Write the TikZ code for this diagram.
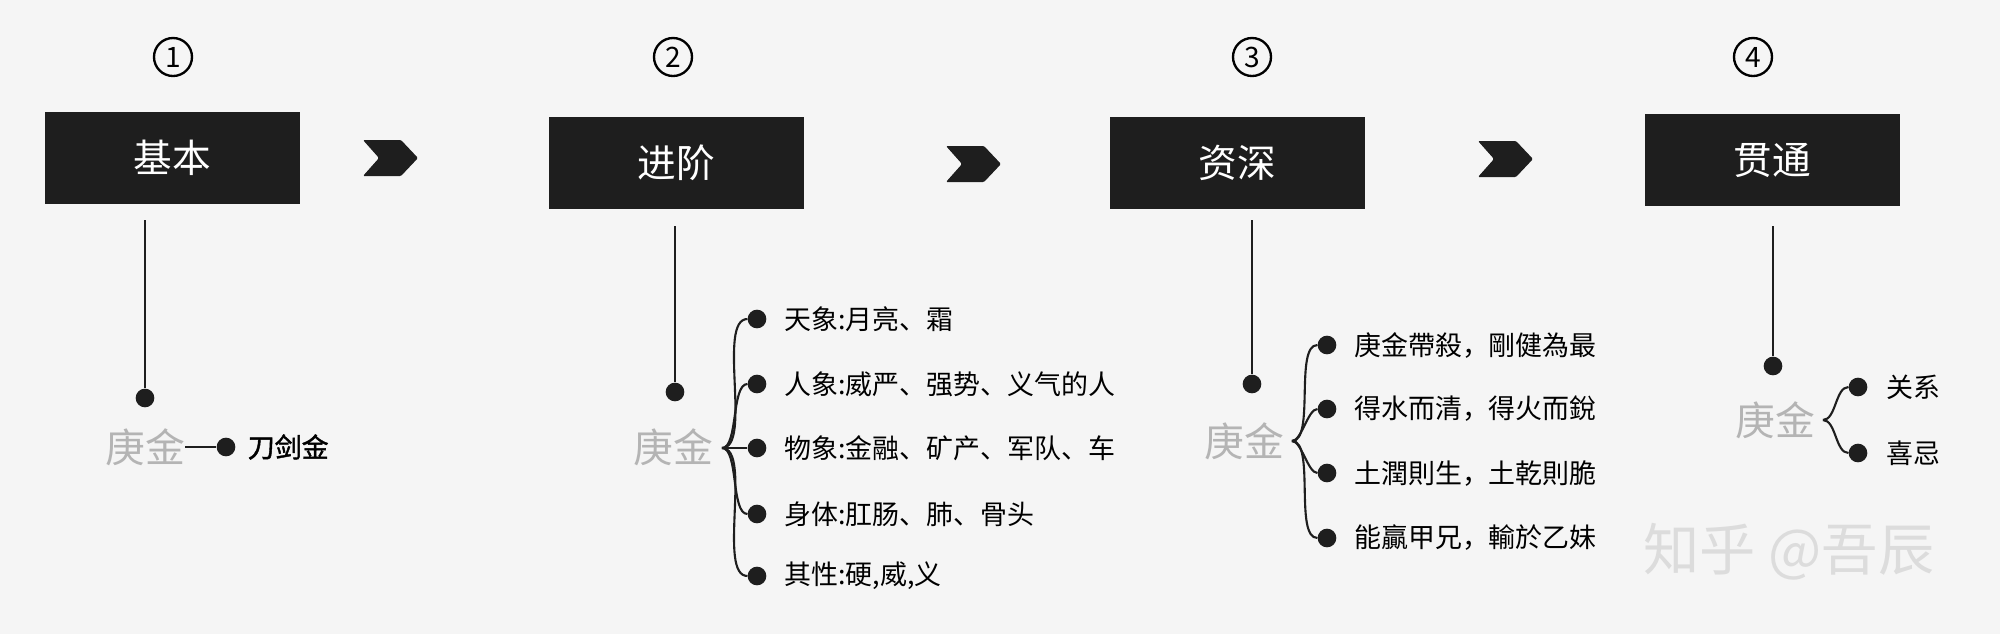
\documentclass[tikz,border=0pt]{standalone}
\usepackage{fontspec}
\setmainfont{Noto Sans CJK SC}
\usetikzlibrary{positioning}
\definecolor{bgcol}{HTML}{F5F5F5}
\definecolor{boxcol}{HTML}{1E1E1E}
\definecolor{rootcol}{HTML}{B4B4B4}
\definecolor{markcol}{HTML}{DCDCDC}
\tikzset{
  stage/.style={fill=boxcol, text=white, minimum width=255*0.3mm, minimum height=92*0.3mm, inner sep=0pt, font=\fontsize{33}{33}\selectfont},
  num/.style={circle, draw=black, line width=2pt, minimum size=38*0.3mm, inner sep=0pt, font=\fontsize{24}{24}\selectfont},
  root/.style={text=rootcol, font=\fontsize{34}{34}\selectfont, inner sep=0pt},
  dot/.style={circle, fill=boxcol, minimum size=5.6mm, inner sep=0pt},
  item/.style={anchor=west, font=\fontsize{23}{23}\selectfont, inner sep=0pt},
  link/.style={line width=1.8pt, draw=boxcol},
  chev/.style={fill=boxcol, rounded corners=1pt},
}
\newcommand{\chevron}[2]{\fill[chev] (#1,#2) -- ++(38,0) -- ++(17,18) -- ++(-17,18) -- ++(-38,0) -- ++(16,-18) -- cycle;}
\begin{document}
\begin{tikzpicture}[x=0.3mm, y=-0.3mm]
    % background
    \fill[bgcol] (0,0) rectangle (2000,634);
    \useasboundingbox (0,0) rectangle (2000,634);

    % stages
    \node[stage] (basic) at (172,158) {基本};
    \node[stage] (adv)   at (676,163) {进阶};
    \node[stage] (deep)  at (1237,163) {资深};
    \node[stage] (thru)  at (1772,160) {贯通};

    \node[num] (n1) at (173,57)  {1};
    \node[num] (n2) at (673,57)  {2};
    \node[num] (n3) at (1252,57) {3};
    \node[num] (n4) at (1753,57) {4};

    \chevron{363}{140}
    \chevron{946}{146}
    \chevron{1478}{141}

    % stage 1
    \node[dot] (d1) at (145,398) {};
    \draw[link] (145,220) -- (d1);
    \node[root] (g1) at (145,447) {庚金};
    \node[dot] (e1) at (226,447) {};
    \draw[link] (g1.east) -- (e1);
    \node[item, font=\fontsize{23}{23}\selectfont\addfontfeatures{FakeBold=1.5}, right=12*0.3mm of e1] (t1) {刀剑金};

    % stage 2
    \node[dot] (d2) at (675,392) {};
    \draw[link] (675,226) -- (d2);
    \node[root] (g2) at (673,447) {庚金};
    \coordinate (o2) at (722,448);
    \foreach \y/\txt [count=\i] in {319/{天象:月亮、霜}, 384/{人象:威严、强势、义气的人},
        448/{物象:金融、矿产、军队、车}, 514/{身体:肛肠、肺、骨头}, 576/{其性:硬,威,义}} {
      \node[dot] (a\i) at (757,\y) {};
      \draw[link] (o2) to[out=0, in=180, looseness=0.6] (a\i);
      \node[item] (ta\i) at (784,\y) {\txt};
    }

    % stage 3
    \node[dot] (d3) at (1252,384) {};
    \draw[link] (1252,220) -- (d3);
    \node[root] (g3) at (1244,441) {庚金};
    \coordinate (o3) at (1292,441);
    \foreach \y/\txt [count=\i] in {345/{庚金帶殺，剛健為最}, 409/{得水而清，得火而銳},
        473/{土潤則生，土乾則脆}, 538/{能贏甲兄，輸於乙妹}} {
      \node[dot] (b\i) at (1327,\y) {};
      \draw[link] (o3) to[out=0, in=180, looseness=0.6] (b\i);
      \node[item] (tb\i) at (1354,\y) {\txt};
    }

    % stage 4
    \node[dot] (d4) at (1773,366) {};
    \draw[link] (1773,226) -- (d4);
    \node[root] (g4) at (1775,420) {庚金};
    \coordinate (o4) at (1823,420);
    \foreach \y/\txt [count=\i] in {387/关系, 453/喜忌} {
      \node[dot] (c\i) at (1858,\y) {};
      \draw[link] (o4) to[out=0, in=180, looseness=0.8] (c\i);
      \node[item] (tc\i) at (1886,\y) {\txt};
    }

    % watermark
    \node[font=\fontsize{48}{48}\selectfont, text=markcol, inner sep=0pt] (wm) at (1789,552) {知乎 @吾辰};
\end{tikzpicture}
\end{document}
